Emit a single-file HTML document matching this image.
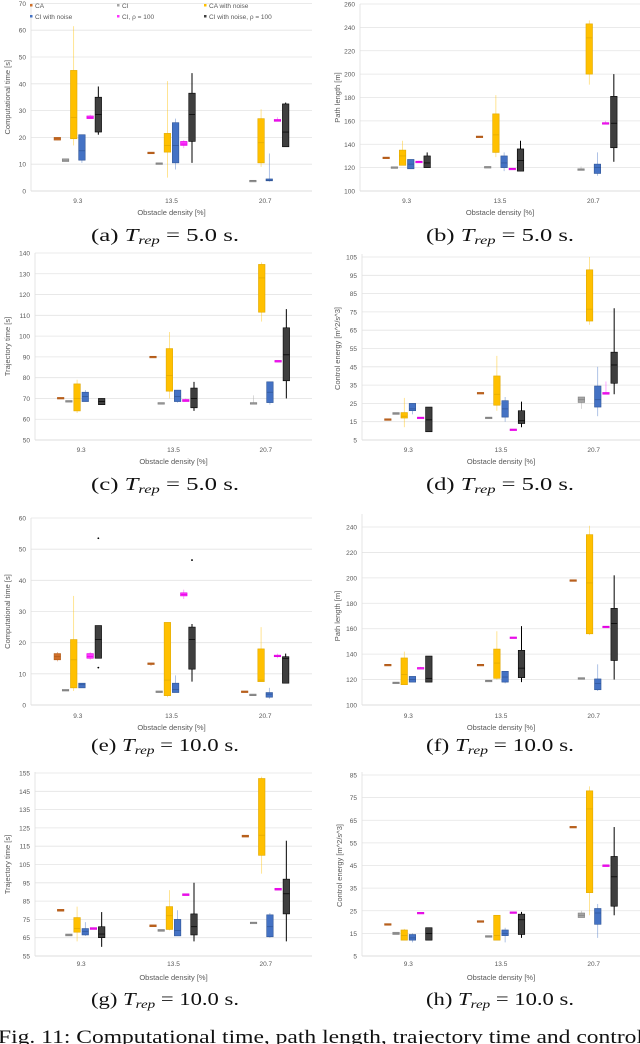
<!DOCTYPE html>
<html><head><meta charset="utf-8"><style>
body{margin:0;background:#fff;width:640px;height:1044px;overflow:hidden}
svg{display:block}
.t{font-family:"Liberation Sans",sans-serif;fill:#595959}
.c{font-family:"Liberation Serif",serif;fill:#111}
</style></head><body>
<svg id="fig" width="640" height="1044" viewBox="0 0 640 1044"></svg>
<script>
const categories=["9.3","13.5","20.7"];
const seriesNames=["CA","CI","CA with noise","CI with noise","CI, ρ = 100","CI with noise, ρ = 100"];
// panel (a) computational time, 5.0 s  [min,q1,median,q3,max]
const a_CA=[[19,19,19.5,20,20],[14,14,14.2,14.5,14.5],null];
const a_CI=[[11,11,11.5,12,12],[10,10,10.2,10.5,10.5],[3.5,3.5,3.8,4,4]];
const a_CAn=[[17,19.5,27.5,45,61.5],[5,14.5,17,21.5,41],[9,10.5,18,27,30.5]];
const a_CIn=[[10.5,11.5,15,21,21],[8,10.5,17,25.5,27],[3.5,3.8,4,4.5,14]];
const a_CIp=[[27,27,27.5,28,28.5],[16,17,17.5,18.5,19],[26,26,26.3,26.7,27.5]];
const a_CInp=[[21,22,28.5,35,39],[10.5,18.5,28.5,36.5,44],[16.5,16.5,22,32.5,33]];
// panel (b) path length, 5.0 s
const b_CA=[[128,128,128.5,129,129],[146,146,146.5,147,147],null];
const b_CI=[[120,120,120.3,120.7,121],[120,120,120.5,121,121],[118,118,118.5,119,121]];
const b_CAn=[[122,122,130,135,143],[129,133,148,166,182],[191,200,231,243,246]];
const b_CIn=[[119,119,123,127,127],[117,120,124,130,133],[113,115,120,123,133]];
const b_CIp=[[124.5,124.5,125,125.5,126],[118.5,118.5,119,119.5,119.5],[157,157.5,158,158.5,160]];
const b_CInp=[[120,120,124,130,133],[117,117,126,136,143],[125,137,158,181,200]];
// panel (c) trajectory time, 5.0 s
const c_CA=[[70,70,70,70.5,70.5],[90,90,90,90.3,90.3],null];
const c_CI=[[68.5,68.5,68.7,69,69],[67.5,67.5,67.8,68,68],[67.5,67.5,67.8,68,71.5]];
const c_CAn=[[63,64,70,77,79],[70,73.5,81,94,102],[107,111.5,128,134.5,135.5]];
const c_CIn=[[68.5,68.5,71,73,74],[68,68.5,71,74,74],[67,68,73,78,78]];
const c_CIp=[null,[68.5,68.5,69,69.5,70],[87.5,87.5,88,88.3,88.3]];
const c_CInp=[[67,67,68.5,70,70],[64,65.5,70,75,78],[70,78.5,91,104,113]];
// panel (d) control energy, 5.0 s
const d_CA=[[16,16,16.3,16.6,16.6],[30.5,30.5,30.7,31,31],null];
const d_CI=[[19,19,19.5,20,20],[17,17,17.2,17.5,17.5],[22,25.5,27,28.5,28.5]];
const d_CAn=[[12,17,18,20,28],[21,24,30,40,51],[68,70,76.5,98,105]];
const d_CIn=[[19,21,22,25,25],[15,17.5,22,26.5,28.5],[18,23,27,34.5,45]];
const d_CIp=[[17,17,17.2,17.5,17.5],[10.5,10.5,10.7,11,11],[30,30,30.5,31,37]];
const d_CInp=[[9.5,9.5,16,23,23],[12,14,15.5,21,26],[30,36,46,53,77]];
// panel (e) computational time, 10.0 s
const e_CA=[[14,14.5,15.5,16.5,17],[12.5,13,13.2,13.5,13.5],[4,4,4.2,4.5,4.5]];
const e_CI=[[4.5,4.5,4.7,5,5],[4,4,4.2,4.5,4.5],[3,3,3.2,3.5,3.5]];
const e_CAn=[[4.5,5.5,14.5,21,35],[2.5,3,8,26.5,26.5],[7.5,7.5,8,18,25]];
const e_CIn=[[5.5,5.5,6.5,7,7],[4,4,5,7,9.5],[2,2.5,3.5,4,5.5]];
const e_CIp=[[14.5,15,15.5,16.5,17],[34,35,35.5,36,37],[15,15.5,15.7,16,16.5]];
const e_CInp=[[15,15,21,25.5,25.5],[7.5,11.5,21,25,26],[7,7,15,15.5,16.5]];
const e_outliers=[[5,0,53.5],[5,1,46.5],[5,0,12]];
// panel (f) path length, 10.0 s
const f_CA=[[131,131,131.5,132,132],[131,131,131.5,132,132],[197.5,197.5,198,198.5,198.5]];
const f_CI=[[117,117,117.5,118,118],[118.5,118.5,119,119.5,119.5],[120.5,120.5,121,121.5,121.5]];
const f_CAn=[[116,116,124,137,142],[120,121,133,144,158],[155,156,196,234,241]];
const f_CIn=[[118,118,120,122.5,122.5],[117,118,122,126.5,126.5],[111,112,117,120.5,132]];
const f_CIp=[[129,129,129.2,129.5,130],[153,153,153.2,153.5,153.5],[161,161,161.5,162,162]];
const f_CInp=[[118,118,121,138.5,138.5],[118,121.5,129,143,162],[120,135,164,176,202]];
// panel (g) trajectory time, 10.0 s
const g_CA=[[79.5,79.5,80,80.5,80.5],[71,71,71.5,72,72],[120,120,120.5,121,121]];
const g_CI=[[66,66,66.5,67,67],[68.5,68.5,69,69.5,69.5],[73,73,73.3,73.5,73.5]];
const g_CAn=[[63,68,70,76,82],[69,69.5,77,82,91],[100,110,121,152,153]];
const g_CIn=[[66,66.5,68.5,70,73.5],[66,66,69,75,80],[65,65.5,71,77.5,78.5]];
const g_CIp=[[69.5,69.5,70,70.5,70.5],[88,88,88.5,89,89],[91,91,91.5,92,92]];
const g_CInp=[[60,65,67,71,79],[63,66.5,71,78,95],[63,78,89,97,118]];
// panel (h) control energy, 10.0 s
const h_CA=[[19,19,19,19.3,19.3],[20,20,20.3,20.6,20.6],[62,62,62,62.3,62.3]];
const h_CI=[[14.5,14.5,15,15.5,15.5],[13.5,13.5,13.7,14,14],[22,22,23,24,25]];
const h_CAn=[[12,12,14,16.5,17],[12,12,14,23,23],[23,33,70,78,80]];
const h_CIn=[[11,12,13,14.5,15],[11,14,15,16.5,17.5],[13,19,24,26,28]];
const h_CIp=[[24,24,24,24.3,24.3],[24,24,24.2,24.5,24.5],[44.5,44.5,45,45.3,45.3]];
const h_CInp=[[12,12,15,17.5,17.5],[13,14.5,21,23.5,24.5],[23,27,40,49,62]];

const fills=["#d0702a","#a5a5a5","#ffc000","#4472c4","#ff33ff","#3f3f3f"];
const strokes=["#b05a18","#808080","#e0a800","#2f5597","#e000e0","#000000"];
const NS="http://www.w3.org/2000/svg";
const svg=document.getElementById('fig');
function el(tag,attrs,parent,text){const e=document.createElementNS(NS,tag);for(const k in attrs)e.setAttribute(k,attrs[k]);if(text!==undefined)e.textContent=text;(parent||svg).appendChild(e);return e;}

function panel(p){
  const g=el('g',{});
  
  
  const y=v=>p.pb+(v-p.vmin)*(p.pt-p.pb)/(p.vmax-p.vmin);
  const band=(p.x1-p.x0)/3;
  const xc=i=>p.x0+(i+0.5)*band;
  for(let v=p.vmin;v<=p.vmax+1e-6;v+=p.step){
    const gl=el('line',{x1:p.x0,x2:p.x1,y1:y(v),y2:y(v),stroke:(v===p.vmin)?'#d0d0d0':'#e4e4e4','stroke-width':0.8},g);
    
    
    const tl=el('text',{x:p.x0-5,y:y(v)+2.5,'text-anchor':'end','font-size':6.5,class:'t'},g,String(v));
    
    
  }
  const ax=el('line',{x1:p.x0,x2:p.x0,y1:p.pb,y2:p.axTop,stroke:'#e0e0e0','stroke-width':0.8},g);
  
  
  categories.forEach((c,i)=>{
    const t=el('text',{x:xc(i),y:p.tickY,'text-anchor':'middle','font-size':6.5,class:'t'},g,c);
    
    
  });
  const xt=el('text',{x:(p.x0+p.x1)/2,y:p.titleY,'text-anchor':'middle','font-size':7.5,class:'t'},g,'Obstacle density [%]');
  
  
  const yt=el('text',{x:0,y:0,'text-anchor':'middle','font-size':7.5,class:'t',transform:`translate(${p.ylx},${(p.pt+p.pb)/2}) rotate(-90)`},g,p.ylabel);
  
  
  p.series.forEach((s,si)=>{
    if(!s)return;
    s.forEach((d,ci)=>{
      if(!d)return;
      const cx=xc(ci)+(si-2.5)*8.2, w=6.5;
      const bg=el('g',{},g);
      
      
      el('line',{x1:cx,x2:cx,y1:y(d[0]),y2:y(d[4]),stroke:si===5?'#000':fills[si],'stroke-width':si===5?1:0.6,opacity:si===5?1:0.7},bg);
      const top=y(d[3]),bot=y(d[1]);
      el('rect',{x:cx-w/2,y:top,width:w,height:Math.max(bot-top,1.6),fill:fills[si],stroke:strokes[si],'stroke-width':0.6},bg);
      el('line',{x1:cx-w/2,x2:cx+w/2,y1:y(d[2]),y2:y(d[2]),stroke:strokes[si],'stroke-width':0.7},bg);
    });
  });
  (p.outliers||[]).forEach(o=>{
    const cx=xc(o[1])+(o[0]-2.5)*8.2;
    const c=el('circle',{cx:cx,cy:y(o[2]),r:0.9,fill:strokes[o[0]]},g);
    
    
  });
  const cap=el('text',{x:p.capX-74,y:p.capY,'font-size':18,class:'c',textLength:148,lengthAdjust:'spacingAndGlyphs'},g);
  
  
  el('tspan',{},cap,'('+p.id+') ');
  el('tspan',{'font-style':'italic'},cap,'T');
  el('tspan',{'font-style':'italic','font-size':12,dy:3},cap,'rep');
  el('tspan',{dy:-3},cap,' = '+p.T+' s.');
}

const panels=[
 {id:'a',x0:31,x1:312,pb:191,pt:3.4,vmin:0,vmax:70,step:10,axTop:3,ylx:10,ylabel:'Computational time [s]',tickY:203,titleY:215,capX:165,capY:241,T:'5.0',series:[a_CA,a_CI,a_CAn,a_CIn,a_CIp,a_CInp]},
 {id:'b',x0:360,x1:640,pb:191,pt:4,vmin:100,vmax:260,step:20,axTop:4,ylx:340,ylabel:'Path length [m]',tickY:203,titleY:215,capX:500,capY:241,T:'5.0',series:[b_CA,b_CI,b_CAn,b_CIn,b_CIp,b_CInp]},
 {id:'c',x0:35,x1:312,pb:440,pt:253,vmin:50,vmax:140,step:10,axTop:253,ylx:10,ylabel:'Trajectory time [s]',tickY:452,titleY:464,capX:165,capY:490,T:'5.0',series:[c_CA,c_CI,c_CAn,c_CIn,c_CIp,c_CInp]},
 {id:'d',x0:362,x1:640,pb:440,pt:257,vmin:5,vmax:105,step:10,axTop:254,ylx:340,ylabel:'Control energy [m^2/s^3]',tickY:452,titleY:464,capX:500,capY:490,T:'5.0',series:[d_CA,d_CI,d_CAn,d_CIn,d_CIp,d_CInp]},
 {id:'e',x0:31,x1:312,pb:705,pt:518,vmin:0,vmax:60,step:10,axTop:518,ylx:10,ylabel:'Computational time [s]',tickY:718,titleY:730,capX:165,capY:751,T:'10.0',series:[e_CA,e_CI,e_CAn,e_CIn,e_CIp,e_CInp],outliers:e_outliers},
 {id:'f',x0:362,x1:640,pb:705,pt:527,vmin:100,vmax:240,step:20,axTop:514,ylx:340,ylabel:'Path length [m]',tickY:718,titleY:730,capX:500,capY:751,T:'10.0',series:[f_CA,f_CI,f_CAn,f_CIn,f_CIp,f_CInp]},
 {id:'g',x0:35,x1:312,pb:956,pt:773,vmin:55,vmax:155,step:10,axTop:772,ylx:10,ylabel:'Trajectory time [s]',tickY:966,titleY:980,capX:165,capY:1005,T:'10.0',series:[g_CA,g_CI,g_CAn,g_CIn,g_CIp,g_CInp]},
 {id:'h',x0:362,x1:640,pb:956,pt:775,vmin:5,vmax:85,step:10,axTop:772,ylx:342,ylabel:'Control energy [m^2/s^3]',tickY:966,titleY:980,capX:500,capY:1005,T:'10.0',series:[h_CA,h_CI,h_CAn,h_CIn,h_CIp,h_CInp]}
];
panels.forEach(panel);

const lg=el('g',{});


const legX=[30,117,204], legY=[6,17];
seriesNames.forEach((n,i)=>{
  const lx=legX[i%3], ly=legY[Math.floor(i/3)];
  const e=el('g',{},lg);
  
  
  el('rect',{x:lx,y:ly-2,width:2.5,height:2.5,fill:fills[i]},e);
  el('text',{x:lx+5,y:ly+2,'font-size':6.5,class:'t'},e,n);
});
const fc=el('text',{x:-2,y:1043,'font-size':19,class:'c',textLength:645,lengthAdjust:'spacingAndGlyphs'},svg,'Fig. 11: Computational time, path length, trajectory time and control');


</script>
</body></html>
